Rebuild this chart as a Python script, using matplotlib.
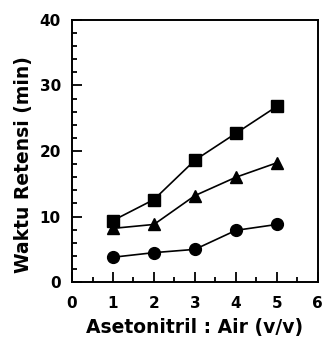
import matplotlib.pyplot as plt
from matplotlib.ticker import MultipleLocator

ratio = [1, 2, 3, 4, 5]
square = [9.4, 12.6, 18.6, 22.7, 26.8]
triangle = [8.2, 8.8, 13.2, 16.0, 18.2]
circle = [3.8, 4.5, 5.0, 7.9, 8.8]

plt.rcParams['font.family'] = 'DejaVu Sans'
plt.rcParams['font.weight'] = 'bold'

fig = plt.figure(figsize=(3.26, 3.42), dpi=100)
ax = fig.add_axes([0.221, 0.175, 0.754, 0.767])

ax.plot(ratio, square, 'k-s', markersize=8.5, linewidth=1.2)
ax.plot(ratio, triangle, 'k-^', markersize=8.5, linewidth=1.2)
ax.plot(ratio, circle, 'k-o', markersize=8.5, linewidth=1.2)

ax.set_xlim(0, 6)
ax.set_ylim(0, 40)
ax.xaxis.set_major_locator(MultipleLocator(1))
ax.xaxis.set_minor_locator(MultipleLocator(0.5))
ax.yaxis.set_major_locator(MultipleLocator(10))
ax.yaxis.set_minor_locator(MultipleLocator(2))
ax.tick_params(which='both', direction='in', labelsize=11, width=1.3)
ax.tick_params(which='major', length=7)
ax.tick_params(which='minor', length=3.5)
ax.tick_params(axis='y', pad=8)
ax.tick_params(axis='x', pad=10)
for s in ax.spines.values():
    s.set_linewidth(1.4)

ax.set_xlabel('Asetonitril : Air (v/v)', fontsize=13.5, fontweight='bold', labelpad=5)
ax.set_ylabel('Waktu Retensi (min)', fontsize=13.5, fontweight='bold')
ax.yaxis.set_label_coords(-0.16, 0.45)

fig.savefig('out.png', dpi=100)
